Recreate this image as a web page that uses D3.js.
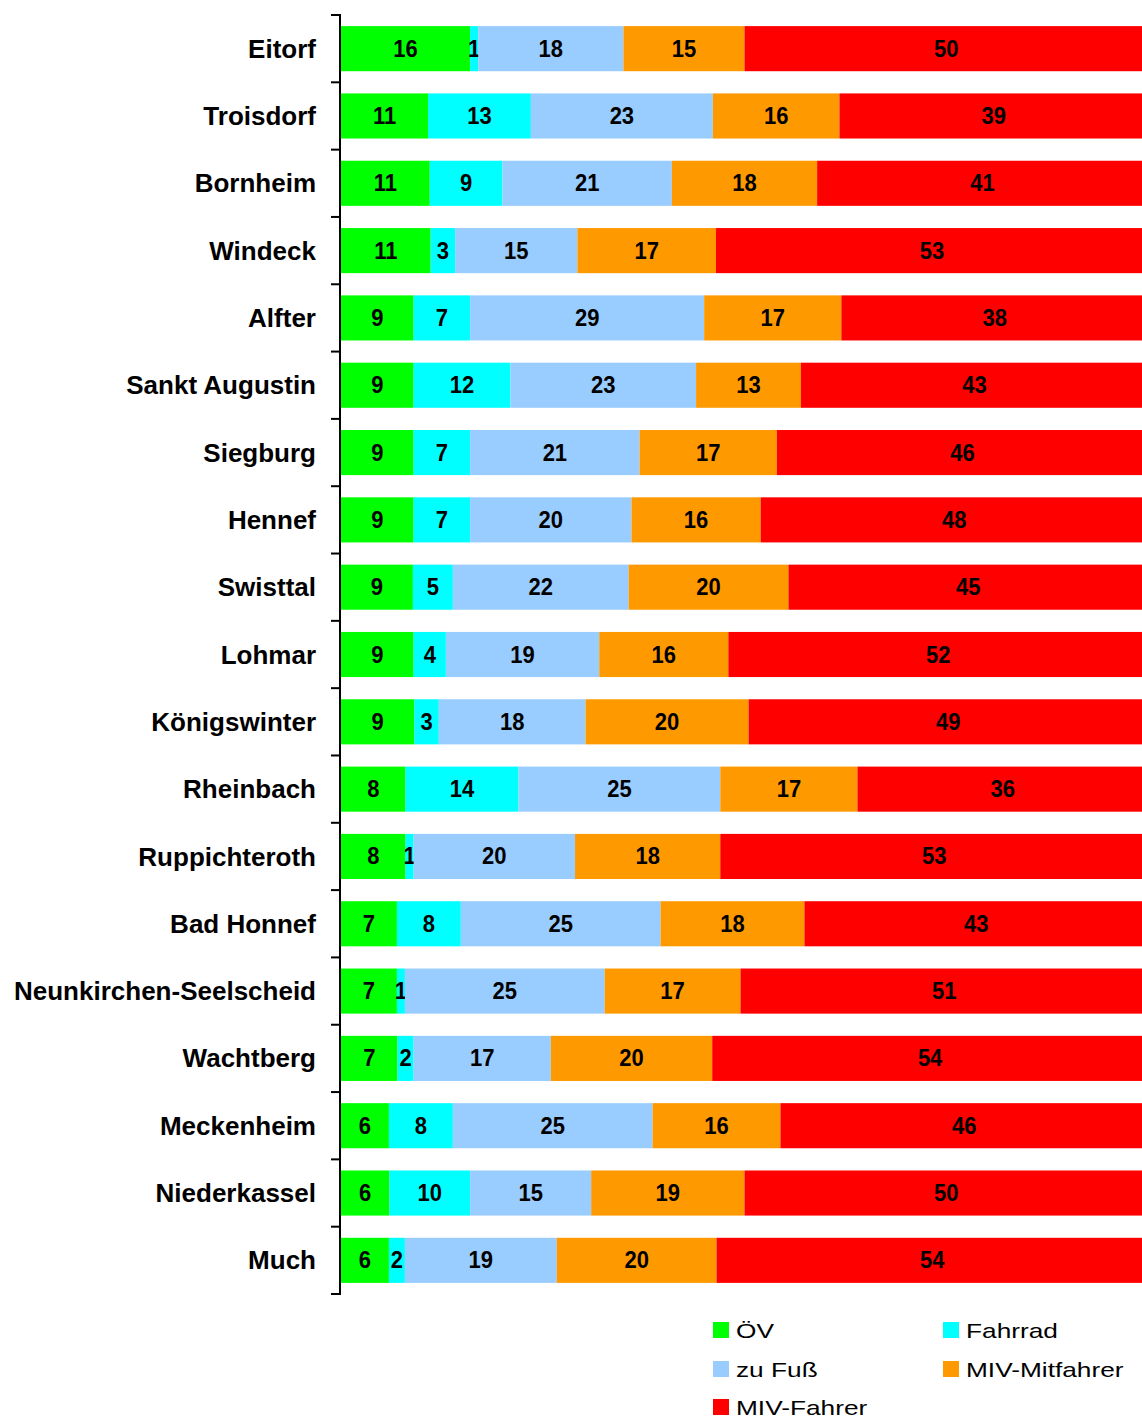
<!DOCTYPE html>
<html><head><meta charset="utf-8">
<script src="https://cdn.jsdelivr.net/npm/d3@7"></script>
<style>body{margin:0;background:#fff}svg{display:block}</style>
</head><body>
<svg id="c" width="1142" height="1418"></svg>
<script>
const categories = ["Eitorf","Troisdorf","Bornheim","Windeck","Alfter","Sankt Augustin","Siegburg","Hennef","Swisttal","Lohmar","Königswinter","Rheinbach","Ruppichteroth","Bad Honnef","Neunkirchen-Seelscheid","Wachtberg","Meckenheim","Niederkassel","Much"];
const seriesNames = ["ÖV","Fahrrad","zu Fuß","MIV-Mitfahrer","MIV-Fahrer"];
const seriesColors = ["#00ff00","#00ffff","#99ccff","#ff9900","#ff0000"];
const oev        = [16,11,11,11,9,9,9,9,9,9,9,8,8,7,7,7,6,6,6];
const fahrrad    = [1,13,9,3,7,12,7,7,5,4,3,14,1,8,1,2,8,10,2];
const zuFuss     = [18,23,21,15,29,23,21,20,22,19,18,25,20,25,25,17,25,15,19];
const mitfahrer  = [15,16,18,17,17,13,17,16,20,16,20,17,18,18,17,20,16,19,20];
const fahrer     = [50,39,41,53,38,43,46,48,45,52,49,36,53,43,51,54,46,50,54];
const seriesValues = [oev,fahrrad,zuFuss,mitfahrer,fahrer];

const svg = d3.select("#c");
const x = d3.scaleLinear().domain([0,1]).range([341,1148]);
const y = d3.scaleBand().domain(categories).range([15,1294]).paddingInner(0.33).paddingOuter(0.165);

const rows = categories.map((c,i)=>{
  const vals = seriesValues.map(s=>s[i]);
  const tot = d3.sum(vals);
  let acc = 0;
  return vals.map((v,k)=>{ const s0=acc/tot; acc+=v; return {cat:c,k,v,s0,s1:acc/tot}; });
});

const g = svg.append("g");
rows.forEach(r=>{
  r.forEach(d=>{
    g.append("rect").attr("x",x(d.s0)).attr("y",y(d.cat))
      .attr("width",x(d.s1)-x(d.s0)).attr("height",y.bandwidth())
      .attr("fill",seriesColors[d.k]);
    g.append("text").attr("transform",`translate(${(x(d.s0)+x(d.s1))/2},${y(d.cat)+y.bandwidth()/2+8}) scale(1,1.08)`)
      .attr("text-anchor","middle")
      .attr("font-family","Liberation Sans, Arial, sans-serif").attr("font-weight","bold")
      .attr("font-size",22).attr("fill","#000").text(d.v);
  });
});

// axis
svg.append("line").attr("x1",340).attr("x2",340).attr("y1",15).attr("y2",1294)
  .attr("stroke","#000").attr("stroke-width",2);
d3.range(categories.length+1).forEach(i=>{
  const yy = 15 + i*(1294-15)/categories.length;
  svg.append("line").attr("x1",331).attr("x2",341).attr("y1",yy).attr("y2",yy)
    .attr("stroke","#000").attr("stroke-width",2);
});
categories.forEach(c=>{
  svg.append("text").attr("x",316).attr("y",y(c)+y.bandwidth()/2).attr("dy","0.35em")
    .attr("text-anchor","end").attr("font-family","Liberation Sans, Arial, sans-serif")
    .attr("font-weight","bold").attr("font-size",26).attr("fill","#000").text(c);
});

// legend
const legPos = [[713,1322],[943,1322],[713,1361],[943,1361],[713,1399]];
seriesNames.forEach((n,k)=>{
  const [lx,ly] = legPos[k];
  svg.append("rect").attr("x",lx).attr("y",ly).attr("width",16).attr("height",16).attr("fill",seriesColors[k]);
  svg.append("text").attr("transform",`translate(${lx+23},${ly+16}) scale(1.25,1)`)
    .attr("font-family","Liberation Sans, Arial, sans-serif").attr("font-size",21)
    .attr("fill","#000").text(n);
});
</script>
</body></html>
